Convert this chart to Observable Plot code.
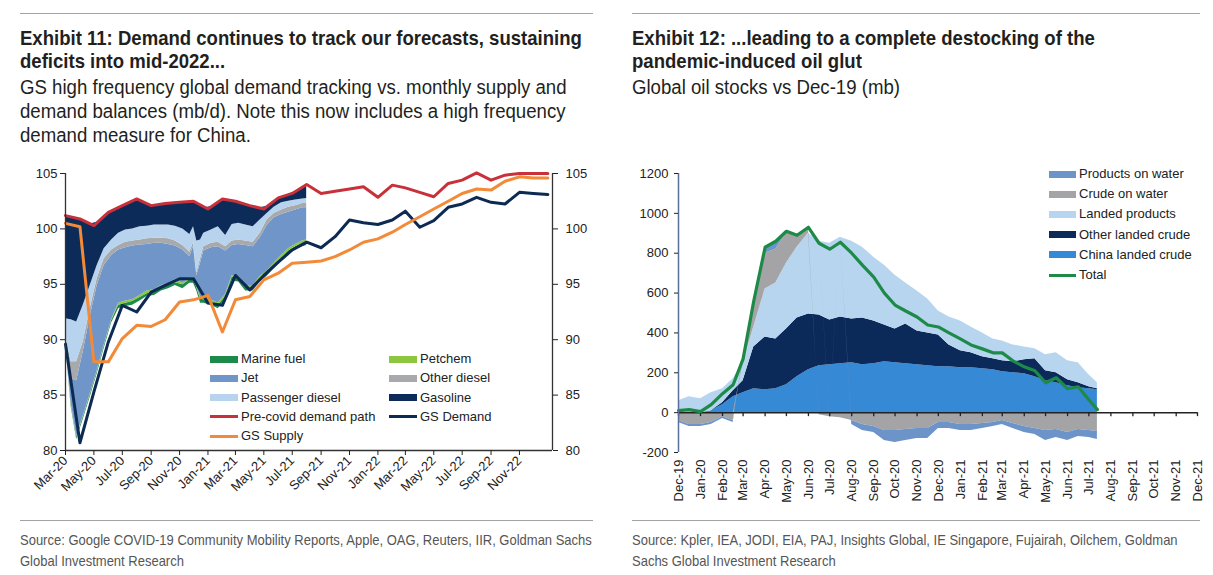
<!DOCTYPE html>
<html><head><meta charset="utf-8">
<script src="https://cdn.jsdelivr.net/npm/d3@7"></script>
<script src="https://cdn.jsdelivr.net/npm/@observablehq/plot@0.6"></script>
<style>
body{margin:0;background:#fff;width:1213px;height:575px;position:relative;overflow:hidden;font-family:"Liberation Sans",Arial,sans-serif;color:#231f20}
.abs{position:absolute;white-space:nowrap}
.rule{position:absolute;height:0;border-top:1.5px solid #a3a3a3}
.title{font-weight:bold;font-size:20.5px;line-height:23px;transform:scaleX(0.905);transform-origin:0 0}
.sub{font-size:19.5px;line-height:24px;transform:scaleX(0.955);transform-origin:0 0}
.src{font-size:15px;line-height:21px;color:#555;transform:scaleX(0.866);transform-origin:0 0}
.leg{position:absolute;font-family:"Liberation Sans",Arial,sans-serif;font-size:13px;color:#222;white-space:nowrap}
.leg div{position:absolute;height:20px;line-height:20px}
.sw{position:absolute}
</style></head>
<body>
<div class="rule" style="left:20px;top:13px;width:573px"></div>
<div class="rule" style="left:632px;top:13px;width:568px"></div>
<div class="abs title" style="left:20px;top:26px">Exhibit 11: Demand continues to track our forecasts, sustaining<br>deficits into mid-2022...</div>
<div class="abs sub" style="left:20px;top:75px">GS high frequency global demand tracking vs. monthly supply and<br>demand balances (mb/d). Note this now includes a high frequency<br>demand measure for China.</div>
<div class="abs title" style="left:632px;top:26px">Exhibit 12: ...leading to a complete destocking of the<br>pandemic-induced oil glut</div>
<div class="abs sub" style="left:632px;top:75px">Global oil stocks vs Dec-19 (mb)</div>
<div id="left" class="abs" style="left:0;top:155px"></div>
<div id="right" class="abs" style="left:606px;top:155px"></div>
<div id="legL" class="leg" style="left:0;top:0"></div>
<div id="legR" class="leg" style="left:0;top:0"></div>
<div class="rule" style="left:20px;top:520px;width:573px"></div>
<div class="rule" style="left:632px;top:520px;width:568px"></div>
<div class="abs src" style="left:20px;top:529px">Source: Google COVID-19 Community Mobility Reports, Apple, OAG, Reuters, IIR, Goldman Sachs<br>Global Investment Research</div>
<div class="abs src" style="left:632px;top:529px">Source: Kpler, IEA, JODI, EIA, PAJ, Insights Global, IE Singapore, Fujairah, Oilchem, Goldman<br>Sachs Global Investment Research</div>
<script>
// ---------- Exhibit 11 data ----------
const monthsL = ["2020-03-01","2020-04-01","2020-05-01","2020-06-01","2020-07-01","2020-08-01","2020-09-01","2020-10-01","2020-11-01","2020-12-01",
 "2021-01-01","2021-02-01","2021-03-01","2021-04-01","2021-05-01","2021-06-01","2021-07-01","2021-08-01","2021-09-01","2021-10-01","2021-11-01","2021-12-01",
 "2022-01-01","2022-02-01","2022-03-01","2022-04-01","2022-05-01","2022-06-01","2022-07-01","2022-08-01","2022-09-01","2022-10-01","2022-11-01","2022-12-01","2023-01-01"];
const preCovid = [101.2,100.9,100.3,101.5,102.1,102.7,102.1,102.3,102.4,102.5,
 101.8,102.7,102.5,102.1,101.8,102.8,103.2,104.0,103.2,103.4,103.6,103.8,
 102.85,103.95,103.7,103.3,102.9,104.1,104.4,105.05,104.4,104.85,105.0,105.0,105.0];
const gsDemand = [89.6,80.7,85.3,89.8,93.1,92.5,94.3,94.9,95.5,95.5,
 93.3,93.1,95.8,94.5,95.8,97.0,98.1,98.8,98.3,99.3,100.8,100.55,
 100.4,100.8,101.6,100.15,100.75,101.95,102.25,102.85,102.4,102.25,103.3,103.2,103.1];
const gsSupply = [100.5,100.2,88.0,88.0,90.1,91.3,91.2,91.8,93.4,93.6,
 94.0,90.7,93.6,93.9,95.4,96.0,96.9,97.0,97.1,97.5,98.1,98.8,
 99.1,99.7,100.4,101.1,101.8,102.5,103.2,103.6,103.5,104.3,104.7,104.6,104.6];
const ticksL = ["2020-03-01","2020-05-01","2020-07-01","2020-09-01","2020-11-01","2021-01-01","2021-03-01","2021-05-01","2021-07-01","2021-09-01","2021-11-01",
 "2022-01-01","2022-03-01","2022-05-01","2022-07-01","2022-09-01","2022-11-01"];
const yTicksL = [80,85,90,95,100,105];
// high-frequency demand tracker (stack starts at hfBase)
const hfDates = ["2020-03-01","2020-03-13","2020-03-25","2020-04-08","2020-04-23","2020-05-08","2020-05-23","2020-06-08","2020-06-23","2020-07-08",
 "2020-07-23","2020-08-08","2020-08-23","2020-09-08","2020-09-23","2020-10-08","2020-10-23","2020-11-08","2020-11-23","2020-12-01",
 "2020-12-08","2020-12-16","2020-12-23","2021-01-08","2021-01-23","2021-02-08","2021-02-22","2021-03-08","2021-03-23","2021-04-08",
 "2021-04-23","2021-05-08","2021-05-23","2021-06-08","2021-06-23","2021-07-08","2021-07-23","2021-08-01"];
const hfBase = [89.8,84.0,81.0,82.8,84.8,86.9,89.2,91.5,92.8,93.0,93.1,93.5,93.9,94.0,94.4,94.6,94.9,94.6,95.1,95.1,
 94.4,93.3,93.3,93.1,92.8,93.6,95.3,95.2,94.4,94.4,95.2,95.7,96.4,97.1,97.7,98.1,98.4,98.5];
const marineFuel = [0.1,0.2,0.2,0.2,0.2,0.2,0.2,0.2,0.3,0.3,0.35,0.3,0.25,0.3,0.35,0.3,0.25,0.35,0.3,0.3,
 0.3,0.35,0.3,0.25,0.3,0.3,0.35,0.3,0.3,0.25,0.3,0.3,0.3,0.25,0.3,0.3,0.25,0.3];
const petchem = [0.1,0.1,0.1,0.1,0.1,0.1,0.1,0.1,0.2,0.2,0.15,0.2,0.25,0.2,0.15,0.2,0.25,0.15,0.2,0.2,
 0.2,0.15,0.2,0.25,0.2,0.2,0.15,0.2,0.2,0.25,0.2,0.2,0.2,0.25,0.2,0.2,0.25,0.2];
const jet = [0.2,2.2,5.0,5.8,7.0,7.7,7.2,5.8,4.8,4.8,4.85,4.55,4.2,4.2,3.8,3.5,3.05,3.0,1.9,2.8,
 0.9,3.1,4.2,4.7,5.1,3.9,2.7,2.9,3.6,3.5,3.5,4.1,4.1,3.7,3.3,3.1,3.0,2.9];
const otherDiesel = [0.2,1.5,1.7,0.9,0.7,0.6,0.6,0.5,0.4,0.5,0.45,0.45,0.5,0.45,0.45,0.5,0.45,0.4,0.4,0.4,
 0.2,0.4,0.4,0.4,0.4,0.4,0.4,0.4,0.4,0.4,0.4,0.5,0.4,0.4,0.45,0.4,0.4,0.4];
const passengerDiesel = [1.5,3.8,3.6,3.3,2.1,1.2,0.9,0.9,1.1,1.1,1.1,1.2,1.15,1.2,1.2,1.25,1.35,1.5,1.6,1.4,
 2.9,1.7,1.2,1.2,1.4,1.0,1.5,1.5,1.45,1.4,1.2,0.6,0.55,0.65,0.55,0.5,0.4,0.45];
const gasoline = [9.3,9.3,9.35,7.65,5.55,3.9,3.0,2.6,2.35,2.35,2.55,2.35,2.0,1.8,1.9,1.95,2.15,2.4,2.95,2.3,
 3.4,3.1,2.3,2.1,2.2,3.2,2.1,1.9,1.8,1.8,1.1,0.65,0.6,0.55,0.6,0.8,1.1,1.15];

// ---------- Exhibit 12 data ----------
const datesR = ["2019-12-01","2019-12-16","2020-01-01","2020-01-16","2020-02-01","2020-02-16","2020-03-01","2020-03-16","2020-04-01","2020-04-16",
 "2020-05-01","2020-05-16","2020-06-01","2020-06-16","2020-07-01","2020-07-16","2020-08-01","2020-08-16","2020-09-01","2020-09-16",
 "2020-10-01","2020-10-16","2020-11-01","2020-11-16","2020-12-01","2020-12-16","2021-01-01","2021-01-16","2021-02-01","2021-02-16",
 "2021-03-01","2021-03-16","2021-04-01","2021-04-16","2021-05-01","2021-05-16","2021-06-01","2021-06-16","2021-07-01","2021-07-13"];
const chinaLanded = [0,0,0,10,40,80,100,120,115,120,140,180,215,235,240,245,250,240,245,255,
 250,245,240,235,230,230,225,225,220,215,205,200,195,180,160,150,135,125,120,115];
const otherLanded = [0,0,0,0,10,30,60,210,265,250,280,295,280,255,225,235,220,235,215,185,
 170,200,170,165,160,110,85,75,60,55,55,55,70,90,50,50,30,25,10,5];
const landedProducts = [60,80,70,90,70,60,90,100,240,280,330,355,405,370,385,400,390,355,320,300,
 270,205,200,170,120,140,150,130,120,100,100,85,65,50,80,100,95,100,60,30];
const crudeOnWater = [-40,-60,-60,-50,-20,-40,30,110,180,170,150,60,30,-10,-20,-25,-40,-60,-70,-90,
 -90,-85,-80,-80,-50,-50,-60,-60,-55,-50,-40,-55,-70,-80,-90,-85,-100,-85,-90,-95];
const productsOnWater = [-10,-10,-10,-10,-10,-10,0,20,30,40,10,0,0,0,-10,0,-20,-30,-30,-50,
 -60,-55,-50,-50,-30,-30,-30,-30,-25,-20,-20,-25,-30,-30,-50,-40,-40,-35,-35,-40];
const totalStocks = [10,15,5,40,95,140,270,560,830,860,910,890,930,850,820,855,800,740,680,600,
 540,510,480,440,430,400,370,340,320,300,300,260,230,210,150,175,120,130,65,15];
const ticksR = ["2019-12-01","2020-01-01","2020-02-01","2020-03-01","2020-04-01","2020-05-01","2020-06-01","2020-07-01","2020-08-01","2020-09-01",
 "2020-10-01","2020-11-01","2020-12-01","2021-01-01","2021-02-01","2021-03-01","2021-04-01","2021-05-01","2021-06-01","2021-07-01",
 "2021-08-01","2021-09-01","2021-10-01","2021-11-01","2021-12-01"];
const yTicksR = [-200,0,200,400,600,800,1000,1200];

// ---------- styling ----------
const MON = ["Jan","Feb","Mar","Apr","May","Jun","Jul","Aug","Sep","Oct","Nov","Dec"];
const fmt = d => MON[d.getUTCMonth()] + "-" + String(d.getUTCFullYear()).slice(2);
const D = s => new Date(s);
const axisFont = {fontFamily:"'Liberation Sans', Arial, sans-serif", fontSize:"13px", color:"#222", background:"transparent", overflow:"visible"};

const hfCats = [
  {name:"Marine fuel", vals:marineFuel, color:"#1d8a4a"},
  {name:"Petchem", vals:petchem, color:"#8dc63f"},
  {name:"Jet", vals:jet, color:"#7096c9"},
  {name:"Other diesel", vals:otherDiesel, color:"#a7a9ac"},
  {name:"Passenger diesel", vals:passengerDiesel, color:"#b7d3ee"},
  {name:"Gasoline", vals:gasoline, color:"#0d2b59"}
];
const hfRows = [];
hfDates.forEach((d, i) => {
  let acc = hfBase[i];
  for (const c of hfCats) { const y1 = acc; acc += c.vals[i]; hfRows.push({date:D(d), cat:c.name, y1, y2:acc, color:c.color}); }
});
const monthRows = monthsL.map((d, i) => ({date:D(d), pre:preCovid[i], dem:gsDemand[i], sup:gsSupply[i]}));
const xDomL = [D("2020-03-01"), D("2023-01-11")];

const left = Plot.plot({
  width:600, height:360, marginLeft:65, marginRight:48, marginTop:18, marginBottom:65,
  style:axisFont,
  x:{type:"utc", domain:xDomL},
  y:{domain:[80,105]},
  color:{type:"identity"},
  marks:[
    Plot.areaY(hfRows, {x:"date", y1:"y1", y2:"y2", z:"cat", fill:"color"}),
    Plot.line(monthRows, {x:"date", y:"pre", stroke:"#c8313a", strokeWidth:3}),
    Plot.line(monthRows, {x:"date", y:"dem", stroke:"#0c2a52", strokeWidth:3}),
    Plot.line(monthRows, {x:"date", y:"sup", stroke:"#f28a38", strokeWidth:3}),
    Plot.ruleX([xDomL[0]], {stroke:"#333", strokeWidth:1.3}),
    Plot.ruleX([xDomL[1]], {stroke:"#333", strokeWidth:1.3}),
    Plot.ruleY([80], {stroke:"#333", strokeWidth:1.3}),
    Plot.axisY({anchor:"left", ticks:yTicksL, tickSize:5, tickPadding:3, label:null}),
    Plot.axisY({anchor:"right", ticks:yTicksL, tickSize:5, tickPadding:8, label:null}),
    Plot.axisX({ticks:ticksL.map(D), tickFormat:fmt, tickRotate:-45, tickSize:5, tickPadding:3, label:null})
  ]
});
document.getElementById("left").appendChild(left);

const stockCats = [
  {name:"China landed crude", vals:chinaLanded, color:"#3589d5"},
  {name:"Other landed crude", vals:otherLanded, color:"#0b2a5a"},
  {name:"Landed products", vals:landedProducts, color:"#b8d5f0"},
  {name:"Crude on water", vals:crudeOnWater, color:"#a4a4a6"},
  {name:"Products on water", vals:productsOnWater, color:"#6d94c8"}
];
const stockRows = [];
for (const c of stockCats) datesR.forEach((d, i) => stockRows.push({date:D(d), cat:c.name, v:c.vals[i], color:c.color}));
const totalRows = datesR.map((d, i) => ({date:D(d), v:totalStocks[i]}));
const xDomR = [D("2019-12-01"), D("2021-12-01")];

const right = Plot.plot({
  width:607, height:360, marginLeft:72, marginRight:16, marginTop:18, marginBottom:63,
  style:axisFont,
  x:{type:"utc", domain:xDomR},
  y:{domain:[-200,1200]},
  color:{type:"identity"},
  marks:[
    Plot.areaY(stockRows, Plot.stackY({x:"date", y:"v", z:"cat", fill:"color"})),
    Plot.ruleY([0], {stroke:"#222", strokeWidth:1.5}),
    Plot.ruleX(ticksR.map(D), {y1:0, y2:-20, stroke:"#222", strokeWidth:1.3}),
    Plot.line(totalRows, {x:"date", y:"v", stroke:"#1d8a48", strokeWidth:3.2}),
    Plot.ruleX([xDomR[0]], {stroke:"#5a6f9c", strokeWidth:1.5}),
    Plot.axisY({anchor:"left", ticks:yTicksR, tickFormat:d => String(d), tickSize:4, tickPadding:6, label:null}),
    Plot.axisX({ticks:ticksR.map(D), tickFormat:fmt, tickRotate:-90, tickSize:0, tickPadding:7, label:null})
  ]
});
document.getElementById("right").appendChild(right);

// ---------- legends ----------
function legend(el, items) {
  for (const it of items) {
    const sw = document.createElement("div");
    sw.className = "sw";
    const h = it.line ? 3 : 7;
    sw.style.cssText = `left:${it.x}px;top:${it.y - h/2}px;width:${it.w}px;height:${h}px;background:${it.color}`;
    el.appendChild(sw);
    const t = document.createElement("div");
    t.textContent = it.name;
    t.style.left = (it.x + it.w + 3) + "px";
    t.style.top = (it.y - 10) + "px";
    el.appendChild(t);
  }
}
const legLeftNames = [["Marine fuel","#1d8a4a",false],["Jet","#7096c9",false],["Passenger diesel","#b7d3ee",false],["Pre-covid demand path","#c8313a",true],["GS Supply","#f28a38",true]];
const legRightNames = [["Petchem","#8dc63f",false],["Other diesel","#a7a9ac",false],["Gasoline","#0d2b59",false],["GS Demand","#0c2a52",true]];
legend(document.getElementById("legL"),
  legLeftNames.map((d, i) => ({name:d[0], color:d[1], line:d[2], x:210, w:28, y:359 + i*19.3}))
  .concat(legRightNames.map((d, i) => ({name:d[0], color:d[1], line:d[2], x:389, w:28, y:359 + i*19.3}))));
const legStock = [["Products on water","#6d94c8",false],["Crude on water","#a4a4a6",false],["Landed products","#b8d5f0",false],["Other landed crude","#0b2a5a",false],["China landed crude","#3589d5",false],["Total","#1d8a48",true]];
legend(document.getElementById("legR"), legStock.map((d, i) => ({name:d[0], color:d[1], line:d[2], x:1049, w:27, y:174 + i*20.2})));
</script>
</body></html>
